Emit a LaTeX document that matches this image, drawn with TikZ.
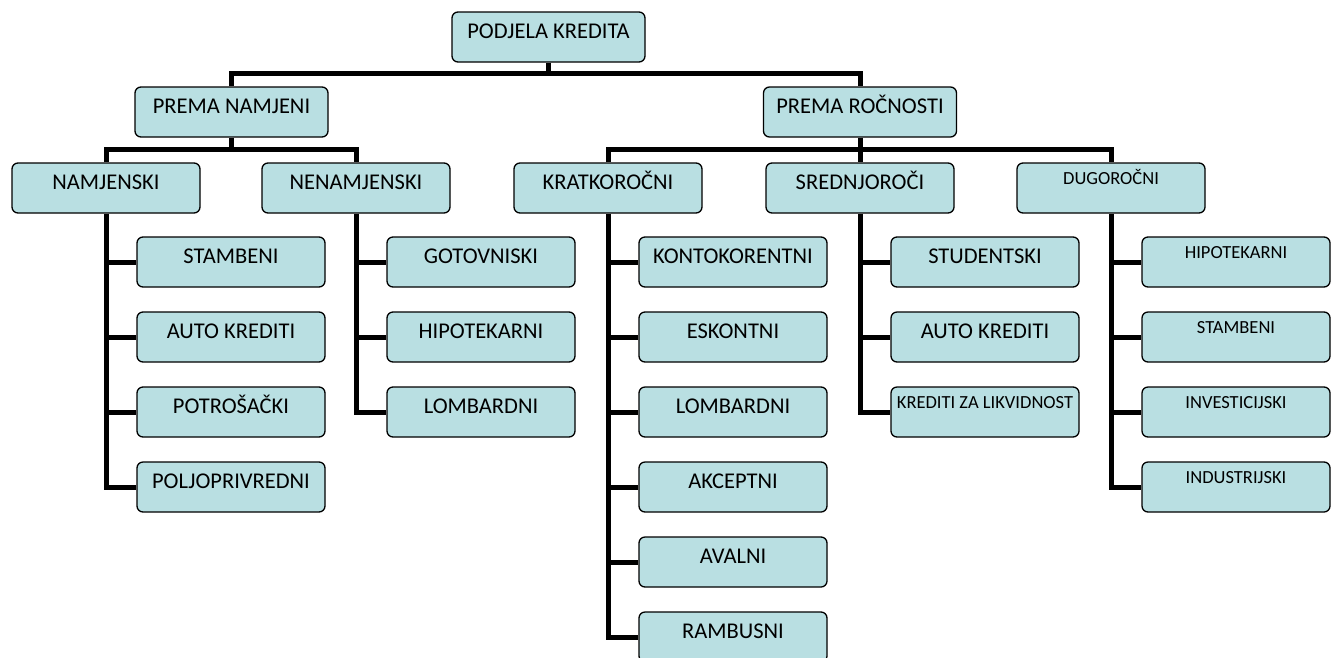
\documentclass[tikz,border=0pt]{standalone}
\usepackage{fontspec}
\setmainfont{Carlito}
\definecolor{boxfill}{RGB}{185,223,226}
\begin{document}
\begin{tikzpicture}[x=1pt,y=-1pt,
  box/.style={draw=black, line width=1.3pt, fill=boxfill, rounded corners=6pt,
    inner xsep=0pt, inner ysep=0pt, font=\fontsize{22.5}{27}\selectfont,
    text height=26pt, text depth=24pt, minimum width=188pt},
  wide/.style={minimum width=193pt},
  small/.style={font=\fontsize{18.5}{22}\selectfont, text height=21.5pt, text depth=28.5pt},
  conn/.style={line width=5pt, line join=miter}]
\clip (0,0) rectangle (1338,657);
\fill[white] (0,0) rectangle (1338,657);
% top levels
\node[box,wide] (root) at (548.5,37) {PODJELA KREDITA};
\node[box,wide] (pn) at (231.5,112) {PREMA NAMJENI};
\node[box,wide] (pr) at (860,112) {PREMA ROČNOSTI};
% level 2
\node[box] (nam) at (106,188) {NAMJENSKI};
\node[box] (nen) at (356,188) {NENAMJENSKI};
\node[box] (kr) at (608,188) {KRATKOROČNI};
\node[box] (sr) at (860,188) {SREDNJOROČI};
\node[box,small] (dug) at (1111,188) {DUGOROČNI};
% children of NAMJENSKI
\node[box] (nam1) at (231,262) {STAMBENI};
\node[box] (nam2) at (231,337) {AUTO KREDITI};
\node[box] (nam3) at (231,412) {POTROŠAČKI};
\node[box] (nam4) at (231,487) {POLJOPRIVREDNI};
% children of NENAMJENSKI
\node[box] (nen1) at (481,262) {GOTOVNISKI};
\node[box] (nen2) at (481,337) {HIPOTEKARNI};
\node[box] (nen3) at (481,412) {LOMBARDNI};
% children of KRATKOROČNI
\node[box] (kr1) at (733,262) {KONTOKORENTNI};
\node[box] (kr2) at (733,337) {ESKONTNI};
\node[box] (kr3) at (733,412) {LOMBARDNI};
\node[box] (kr4) at (733,487) {AKCEPTNI};
\node[box] (kr5) at (733,562) {AVALNI};
\node[box] (kr6) at (733,637) {RAMBUSNI};
% children of SREDNJOROČI
\node[box] (sr1) at (985,262) {STUDENTSKI};
\node[box] (sr2) at (985,337) {AUTO KREDITI};
\node[box,small] (sr3) at (985,412) {KREDITI ZA LIKVIDNOST};
% children of DUGOROČNI
\node[box,small] (dug1) at (1236,262) {HIPOTEKARNI};
\node[box,small] (dug2) at (1236,337) {STAMBENI};
\node[box,small] (dug3) at (1236,412) {INVESTICIJSKI};
\node[box,small] (dug4) at (1236,487) {INDUSTRIJSKI};
% connectors, top
\draw[conn] (root.south) -- ++(0,12);
\draw[conn] (pn.north) -- ++(0,-13) -| (pr.north);
\draw[conn] (pn.south) -- ++(0,13);
\draw[conn] (nam.north) -- ++(0,-13) -| (nen.north);
\draw[conn] (pr.south) -- (sr.north);
\draw[conn] (kr.north) -- ++(0,-13) -| (dug.north);
% spines
\draw[conn] (nam.south) |- (nam4.west);
\foreach \c in {nam1,nam2,nam3} \draw[conn] (nam.south |- \c.west) -- (\c.west);
\draw[conn] (nen.south) |- (nen3.west);
\foreach \c in {nen1,nen2} \draw[conn] (nen.south |- \c.west) -- (\c.west);
\draw[conn] (kr.south) |- (kr6.west);
\foreach \c in {kr1,kr2,kr3,kr4,kr5} \draw[conn] (kr.south |- \c.west) -- (\c.west);
\draw[conn] (sr.south) |- (sr3.west);
\foreach \c in {sr1,sr2} \draw[conn] (sr.south |- \c.west) -- (\c.west);
\draw[conn] (dug.south) |- (dug4.west);
\foreach \c in {dug1,dug2,dug3} \draw[conn] (dug.south |- \c.west) -- (\c.west);
\end{tikzpicture}
\end{document}
